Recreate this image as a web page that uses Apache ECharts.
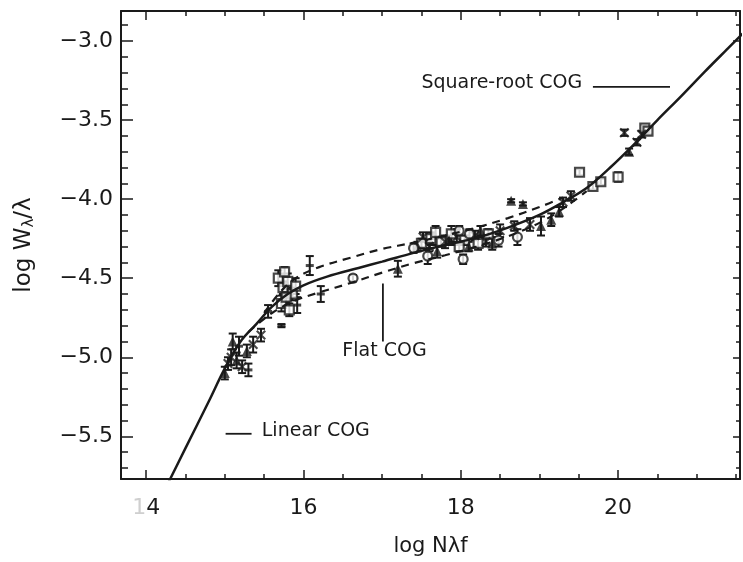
<!DOCTYPE html>
<html><head><meta charset="utf-8">
<script src="https://cdn.jsdelivr.net/npm/echarts@6/dist/echarts.min.js"></script>
<style>html,body{margin:0;padding:0;background:#fff}#c{width:743px;height:562px}</style>
</head><body><div id="c"></div><script>
// ---- axis ticks ----
const xTicksMajor = [14, 16, 18, 20];
const xTicksMinor = [14.5, 15, 15.5, 16.5, 17, 17.5, 18.5, 19, 19.5, 20.5, 21, 21.5];
const yTicksMajor = [-5.5, -5.0, -4.5, -4.0, -3.5, -3.0];
const yTicksMinor = [-5.7, -5.6, -5.4, -5.3, -5.2, -5.1, -4.9, -4.8, -4.7, -4.6, -4.4, -4.3, -4.2, -4.1,
  -3.9, -3.8, -3.7, -3.6, -3.4, -3.3, -3.2, -3.1, -2.9];

// ---- curves of growth ----
const cogX = [14.2, 14.5, 14.8, 15.0, 15.2, 15.4, 15.6, 15.8, 16.0, 16.3, 16.7, 17.0, 17.4, 17.8, 18.2, 18.6, 19.0, 19.3, 19.6, 19.9, 20.2, 20.5, 20.8, 21.1, 21.4, 21.7];
const cogY = [-5.875, -5.575, -5.275, -5.07, -4.90, -4.79, -4.68, -4.60, -4.545, -4.49, -4.435, -4.395, -4.34, -4.29, -4.245, -4.18, -4.10, -4.02, -3.93, -3.80, -3.655, -3.50, -3.35, -3.195, -3.045, -2.895];
const upX = [15.5, 15.7, 15.9, 16.2, 16.6, 17.0, 17.4, 17.8, 18.2, 18.6, 19.0, 19.3];
const upY = [-4.72, -4.59, -4.50, -4.43, -4.37, -4.315, -4.275, -4.23, -4.18, -4.12, -4.05, -3.99];
const loX = [15.3, 15.6, 15.9, 16.2, 16.6, 17.0, 17.4, 17.8, 18.2, 18.6, 19.0, 19.3, 19.6];
const loY = [-4.84, -4.72, -4.64, -4.59, -4.53, -4.465, -4.405, -4.355, -4.30, -4.235, -4.15, -4.06, -3.95];

// ---- measured lines (x, y, half error) ----
const sqX = [15.68, 15.74, 15.80, 15.86, 15.72, 15.82, 15.78, 15.90, 15.76, 17.50, 17.62, 17.75, 17.88, 18.05, 18.22, 18.35, 17.68, 17.98, 19.51, 19.68, 19.78, 20.00, 20.34, 20.38];
const sqY = [-4.50, -4.56, -4.52, -4.60, -4.66, -4.70, -4.62, -4.55, -4.46, -4.28, -4.25, -4.27, -4.22, -4.26, -4.28, -4.22, -4.21, -4.30, -3.83, -3.92, -3.89, -3.86, -3.55, -3.57];
const sqE = [0.05, 0.04, 0.05, 0.04, 0.05, 0.04, 0.03, 0.05, 0.03, 0.03, 0.04, 0.03, 0.05, 0.03, 0.04, 0.03, 0.04, 0.03, 0.02, 0.02, 0.02, 0.03, 0.02, 0.02];
const triX = [15.00, 15.15, 15.28, 15.10, 17.20, 17.45, 17.70, 18.10, 18.40, 18.64, 18.79, 19.02, 19.15, 19.25, 20.14, 17.85, 18.25];
const triY = [-5.10, -5.02, -4.96, -4.90, -4.44, -4.30, -4.33, -4.30, -4.28, -4.01, -4.03, -4.17, -4.13, -4.08, -3.70, -4.26, -4.20];
const triE = [0.04, 0.05, 0.04, 0.05, 0.05, 0.03, 0.04, 0.03, 0.04, 0.01, 0.01, 0.06, 0.04, 0.03, 0.02, 0.03, 0.03];
const crX = [15.08, 15.22, 15.36, 15.46, 15.04, 17.60, 17.80, 17.95, 18.18, 18.50, 18.68, 18.88, 19.30, 19.40, 20.08, 20.24, 20.30, 17.52, 18.32];
const crY = [-5.00, -5.06, -4.92, -4.86, -5.04, -4.30, -4.27, -4.24, -4.23, -4.20, -4.17, -4.16, -4.02, -3.98, -3.58, -3.64, -3.59, -4.24, -4.27];
const crE = [0.05, 0.04, 0.05, 0.04, 0.04, 0.03, 0.04, 0.05, 0.03, 0.04, 0.03, 0.04, 0.03, 0.03, 0.02, 0.02, 0.02, 0.03, 0.03];
const ciX = [16.63, 17.58, 17.98, 18.11, 18.48, 18.72, 18.03, 17.40];
const ciY = [-4.50, -4.36, -4.20, -4.22, -4.26, -4.24, -4.38, -4.31];
const ciE = [0.02, 0.05, 0.03, 0.03, 0.04, 0.05, 0.03, 0.03];
const dsX = [16.08, 16.22, 15.72, 15.92, 15.55, 15.18, 15.30];
const dsY = [-4.42, -4.60, -4.80, -4.67, -4.71, -4.93, -5.08];
const dsE = [0.06, 0.05, 0.01, 0.05, 0.04, 0.06, 0.04];

// ---- annotations (data coords) ----
const noteText = ['Square-root COG', 'Flat COG', 'Linear COG'];
const noteX = [17.50, 17.03, 15.47];
const noteY = [-3.267, -4.96, -5.466];
const leaderX1 = [19.68, 17.01, 15.01], leaderY1 = [-3.29, -4.534, -5.484];
const leaderX2 = [20.66, 17.01, 15.34], leaderY2 = [-3.29, -4.90, -5.484];

const INK = '#1a1a1a';
const FONT = 'DejaVu Sans';
const X_MIN = 13.68, X_MAX = 21.55, Y_MIN = -5.77, Y_MAX = -2.81;

const zip = (a, b) => a.map((v, i) => [v, b[i]]);
const zip3 = (a, b, c) => a.map((v, i) => [v, b[i], c[i]]);

function xAx(pos, ticks, len, labels, line) {
  return {
    type: 'value', position: pos, min: X_MIN, max: X_MAX,
    axisLine: { show: line, onZero: false, lineStyle: { color: INK, width: 2 } },
    axisTick: { show: true, inside: true, length: len, customValues: ticks, lineStyle: { color: INK, width: 1.5 } },
    axisLabel: labels ? {
      show: true, customValues: ticks, margin: 18, color: INK, fontFamily: FONT, fontSize: 22,
      formatter: v => v === 14 ? '{f|1}{n|4}' : String(v),
      rich: { f: { color: '#cfcfcf', fontFamily: FONT, fontSize: 22 }, n: { color: INK, fontFamily: FONT, fontSize: 22 } }
    } : { show: false },
    splitLine: { show: false }
  };
}
function yAx(pos, ticks, len, labels, line) {
  return {
    type: 'value', position: pos, min: Y_MIN, max: Y_MAX,
    axisLine: { show: line, onZero: false, lineStyle: { color: INK, width: 2 } },
    axisTick: { show: true, inside: true, length: len, customValues: ticks, lineStyle: { color: INK, width: 1.5 } },
    axisLabel: labels ? {
      show: true, customValues: ticks, margin: 8, color: INK, fontFamily: FONT, fontSize: 22,
      formatter: v => '\u2212' + Math.abs(v).toFixed(1)
    } : { show: false },
    splitLine: { show: false }
  };
}

const xAxes = [xAx('bottom', xTicksMajor, 9, true, true), xAx('bottom', xTicksMinor, 5, false, false),
  xAx('top', xTicksMajor, 9, false, true), xAx('top', xTicksMinor, 5, false, false)];
xAxes[0].name = 'log N\u03bbf';
xAxes[0].nameLocation = 'middle';
xAxes[0].nameGap = 57;
xAxes[0].nameTextStyle = { color: INK, fontFamily: FONT, fontSize: 21 };

const yAxes = [yAx('left', yTicksMajor, 12, true, true), yAx('left', yTicksMinor, 7, false, false),
  yAx('right', yTicksMajor, 7, false, true), yAx('right', yTicksMinor, 4, false, false)];
yAxes[0].name = 'log W{s|\u03bb}/\u03bb';
yAxes[0].nameLocation = 'middle';
yAxes[0].nameGap = 84;
yAxes[0].nameRotate = 90;
yAxes[0].nameTextStyle = { color: INK, fontFamily: FONT, fontSize: 23,
  rich: { s: { fontFamily: FONT, fontSize: 15, color: INK, padding: [10, 0, 0, 0] } } };

function errBars(x, y, e) {
  return {
    type: 'custom', xAxisIndex: 0, yAxisIndex: 0, clip: true, z: 3,
    data: zip3(x, y, e), encode: { x: 0, y: 1 },
    renderItem: (params, api) => {
      const xv = api.value(0), yv = api.value(1), ev = api.value(2);
      const t = api.coord([xv, yv + ev]), b = api.coord([xv, yv - ev]);
      const st = { stroke: INK, lineWidth: 2 };
      return { type: 'group', children: [
        { type: 'line', shape: { x1: t[0], y1: t[1], x2: b[0], y2: b[1] }, style: st },
        { type: 'line', shape: { x1: t[0] - 4, y1: t[1], x2: t[0] + 4, y2: t[1] }, style: st },
        { type: 'line', shape: { x1: b[0] - 4, y1: b[1], x2: b[0] + 4, y2: b[1] }, style: st }
      ] };
    }
  };
}
function pts(x, y, symbol, size, style) {
  return { type: 'scatter', xAxisIndex: 0, yAxisIndex: 0, data: zip(x, y), symbol, symbolSize: size,
    itemStyle: style, z: 4, silent: true };
}
const crossPath = 'path://M0,1.5L1.5,0L5,3.5L8.5,0L10,1.5L6.5,5L10,8.5L8.5,10L5,6.5L1.5,10L0,8.5L3.5,5Z';

const chart = echarts.init(document.getElementById('c'), null, { renderer: 'canvas' });
chart.setOption({
  animation: false,
  backgroundColor: '#fff',
  grid: { left: 121, right: 3, top: 11, bottom: 75, containLabel: false },
  xAxis: xAxes,
  yAxis: yAxes,
  series: [
    { type: 'line', data: zip(cogX, cogY), smooth: 0.35, showSymbol: false, clip: true, z: 5,
      lineStyle: { color: INK, width: 2.5 } },
    { type: 'line', data: zip(upX, upY), smooth: 0.35, showSymbol: false, clip: true, z: 5,
      lineStyle: { color: INK, width: 2.2, type: [8, 6] } },
    { type: 'line', data: zip(loX, loY), smooth: 0.35, showSymbol: false, clip: true, z: 5,
      lineStyle: { color: INK, width: 2.2, type: [8, 6] } },
    errBars(sqX, sqY, sqE), errBars(triX, triY, triE), errBars(crX, crY, crE), errBars(ciX, ciY, ciE), errBars(dsX, dsY, dsE),
    pts(sqX, sqY, 'rect', 9, { color: '#fff', borderColor: INK, borderWidth: 2.2 }),
    pts(triX, triY, 'triangle', 10, { color: INK }),
    pts(crX, crY, crossPath, 10, { color: INK }),
    pts(ciX, ciY, 'circle', 9, { color: '#fff', borderColor: INK, borderWidth: 2.2 }),
    pts(dsX, dsY, 'rect', [8, 3], { color: INK })
  ]
});

// annotations positioned through the axes' scales
const px = v => chart.convertToPixel({ xAxisIndex: 0 }, v);
const py = v => chart.convertToPixel({ yAxisIndex: 0 }, v);
const g = [];
noteText.forEach((t, i) => {
  g.push({ type: 'text', x: px(noteX[i]), y: py(noteY[i]),
    style: { text: t, fill: INK, font: '19px "DejaVu Sans"', textAlign: i === 1 ? 'center' : 'left', textVerticalAlign: 'middle' } });
  g.push({ type: 'line', shape: { x1: px(leaderX1[i]), y1: py(leaderY1[i]), x2: px(leaderX2[i]), y2: py(leaderY2[i]) },
    style: { stroke: INK, lineWidth: 1.8 } });
});
chart.setOption({ graphic: g });
</script></body></html>
